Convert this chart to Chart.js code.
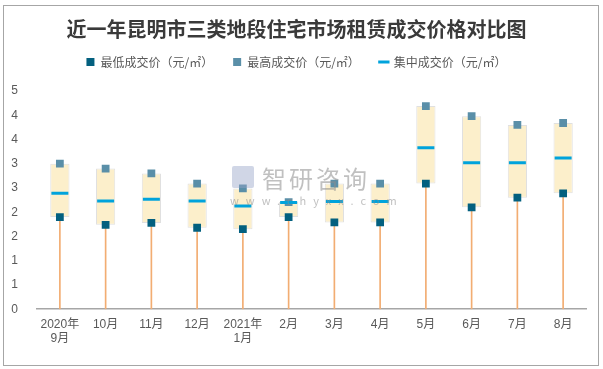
<!DOCTYPE html>
<html>
<head>
<meta charset="utf-8">
<script src="https://cdn.jsdelivr.net/npm/chart.js@4.4.0/dist/chart.umd.min.js"></script>
<style>
	html, body { margin: 0; padding: 0; background: #fff; }
	#wrap { position: absolute; left: 3px; top: 5px; width: 594px; height: 359px; border: 1px solid #a6a6a6; }
	#myChart { display: block; }
	.wm { position: absolute; color: rgba(140,140,140,0.55); font-family: 'Noto Sans CJK SC', sans-serif; pointer-events: none; }
	.logo { position: absolute; left: 228px; top: 160px; width: 22px; height: 22px; background: rgba(150,165,200,0.45); border-radius: 2px; }
</style>
</head>
<body>
<div id="wrap">
	<canvas id="myChart" width="594" height="359"></canvas>
	<div class="logo"></div>
	<div class="wm" style="left:258px; top:154px; font-size:24px; letter-spacing:3px;">智研咨询</div>
	<div class="wm" style="left:226px; top:186px; font-size:11px; letter-spacing:7px;">www.chyxx.com</div>
</div>
<script>
var categories = [['2020年', '9月'], '10月', '11月', '12月', ['2021年', '1月'], '2月', '3月', '4月', '5月', '6月', '7月', '8月'];
var lowPrice = [1.90, 1.74, 1.78, 1.68, 1.65, 1.90, 1.79, 1.79, 2.59, 2.10, 2.30, 2.39];
var highPrice = [3.00, 2.90, 2.80, 2.59, 2.49, 2.21, 2.59, 2.59, 4.19, 3.98, 3.80, 3.84];
var midPrice = [2.39, 2.23, 2.27, 2.23, 2.13, 2.20, 2.22, 2.22, 3.33, 3.02, 3.02, 3.12];
var yTickLabels = ['0', '1', '1', '2', '2', '3', '3', '4', '4', '5'];

function graph() {
	var ctx = document.getElementById('myChart').getContext('2d');

	// box = low..high, stem = 0..low
	var boxData = [];
	var stemData = [];
	lowPrice.forEach(function(value, i) {
		boxData.push([value, highPrice[i]]);
		stemData.push([0, value]);
	});

	var data = {
		labels: categories,
		datasets: [{
			type: 'line',
			label: '最低成交价（元/㎡）',
			data: lowPrice,
			showLine: false,
			pointStyle: 'rect',
			pointRadius: 5.5,
			pointHoverRadius: 5.5,
			backgroundColor: '#03607f',
			borderColor: '#03607f',
			borderWidth: 0,
			order: 1
		}, {
			type: 'line',
			label: '最高成交价（元/㎡）',
			data: highPrice,
			showLine: false,
			pointStyle: 'rect',
			pointRadius: 5.5,
			pointHoverRadius: 5.5,
			backgroundColor: '#5a8fa8',
			borderColor: '#5a8fa8',
			borderWidth: 0,
			order: 2
		}, {
			type: 'line',
			label: '集中成交价（元/㎡）',
			data: midPrice,
			showLine: false,
			pointStyle: 'line',
			pointRadius: 8.5,
			pointHoverRadius: 8.5,
			backgroundColor: '#00a3dc',
			borderColor: '#00a3dc',
			borderWidth: 3,
			order: 0
		}, {
			type: 'bar',
			label: 'box',
			data: boxData,
			backgroundColor: '#fcefcb',
			borderColor: '#e0e0e0',
			borderWidth: 1,
			borderSkipped: false,
			grouped: false,
			barPercentage: 0.42,
			categoryPercentage: 1,
			order: 3
		}, {
			type: 'bar',
			label: 'stem',
			data: stemData,
			backgroundColor: '#f2ad72',
			borderWidth: 0,
			grouped: false,
			barThickness: 1,
			order: 4
		}]
	};

	// extra space under the legend
	var legendGap = {
		id: 'legendGap',
		beforeInit: function(chart) {
			var fit = chart.legend.fit;
			chart.legend.fit = function() {
				fit.bind(chart.legend)();
				this.height += 13;
			};
		}
	};

	var myChart = new Chart(ctx, {
		type: 'bar',
		data: data,
		plugins: [legendGap],
		options: {
			responsive: false,
			animation: false,
			layout: { padding: { left: 3, right: 12, top: 0, bottom: 11 } },
			plugins: {
				title: {
					display: true,
					text: '近一年昆明市三类地段住宅市场租赁成交价格对比图',
					color: '#3a3a3a',
					font: { family: "'Noto Sans CJK SC', sans-serif", size: 20, weight: 'bold' },
					padding: { top: 11, bottom: -5 }
				},
				legend: {
					display: true,
					labels: {
						usePointStyle: true,
						boxWidth: 8,
						boxHeight: 8,
						padding: 20,
						color: '#595959',
						font: { family: "'Noto Sans CJK SC', sans-serif", size: 12 },
						filter: function(item) {
							return item.datasetIndex < 3;
						},
						sort: function(a, b) {
							return a.datasetIndex - b.datasetIndex;
						}
					}
				},
				tooltip: { enabled: false }
			},
			scales: {
				x: {
					grid: { display: false, drawTicks: false },
					border: { display: true, color: '#a6a6a6', width: 1.5 },
					ticks: {
						color: '#595959',
						font: { family: "'Liberation Sans', 'Noto Sans CJK SC', sans-serif", size: 12 },
						maxRotation: 0,
						autoSkip: false,
						padding: 8
					}
				},
				y: {
					min: 0,
					max: 4.5,
					afterFit: function(scale) {
						scale.width = 30;
					},
					grid: { display: false, drawTicks: false },
					border: { display: false },
					ticks: {
						stepSize: 0.5,
						color: '#595959',
						font: { family: "'Liberation Sans', sans-serif", size: 12 },
						padding: 19,
						callback: function(value, index) {
							return yTickLabels[index];
						}
					}
				}
			}
		}
	});
}

graph();
</script>
</body>
</html>
